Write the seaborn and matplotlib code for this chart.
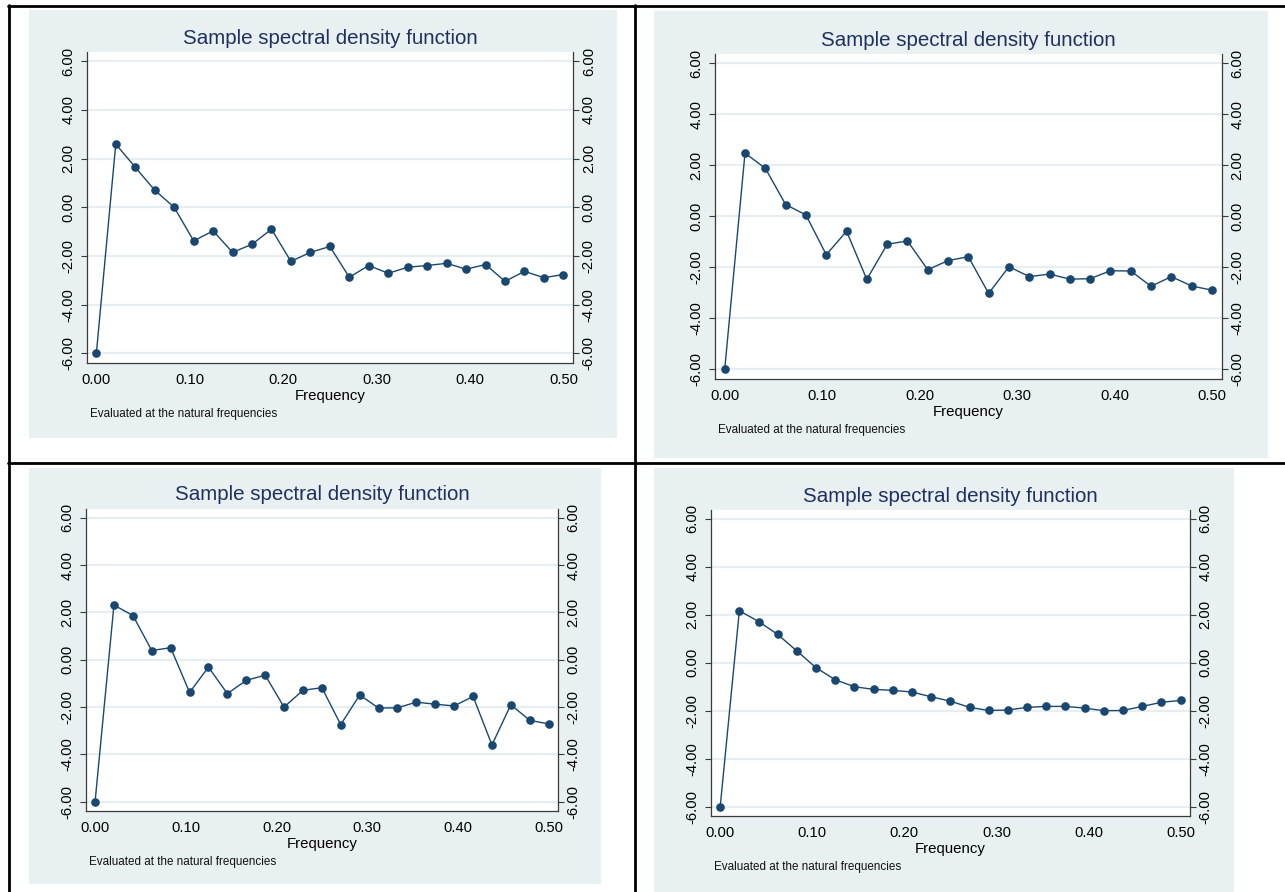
import matplotlib
matplotlib.use("Agg")
import matplotlib.pyplot as plt
import seaborn as sns
import pandas as pd
from matplotlib.patches import Rectangle
from matplotlib.lines import Line2D

# ---------------- data ----------------
freq = [0.0, 0.0208, 0.0417, 0.0625, 0.0833, 0.1042, 0.125, 0.1458, 0.1667,
        0.1875, 0.2083, 0.2292, 0.25, 0.2708, 0.2917, 0.3125, 0.3333, 0.3542,
        0.375, 0.3958, 0.4167, 0.4375, 0.4583, 0.4792, 0.5]

sdf1 = [-6.00, 2.59, 1.64, 0.70, 0.00, -1.38, -0.97, -1.85, -1.52, -0.90,
        -2.22, -1.85, -1.61, -2.87, -2.39, -2.71, -2.46, -2.39, -2.30, -2.54,
        -2.35, -3.04, -2.63, -2.89, -2.76]
sdf2 = [-6.00, 2.48, 1.88, 0.46, 0.05, -1.51, -0.59, -2.48, -1.10, -0.97,
        -2.10, -1.74, -1.59, -3.03, -1.98, -2.37, -2.27, -2.47, -2.45, -2.14,
        -2.15, -2.75, -2.37, -2.74, -2.90]
sdf3 = [-6.00, 2.31, 1.87, 0.39, 0.51, -1.38, -0.31, -1.43, -0.87, -0.65,
        -2.00, -1.29, -1.18, -2.74, -1.49, -2.04, -2.03, -1.79, -1.88, -1.95,
        -1.55, -3.60, -1.90, -2.56, -2.71]
sdf4 = [-6.00, 2.17, 1.72, 1.18, 0.49, -0.21, -0.71, -1.00, -1.11, -1.15,
        -1.22, -1.42, -1.60, -1.86, -1.99, -1.97, -1.86, -1.82, -1.82, -1.89,
        -2.00, -1.99, -1.82, -1.65, -1.57]

y_ticks = [-6, -4, -2, 0, 2, 4, 6]
y_labels = ["-6.00", "-4.00", "-2.00", "0.00", "2.00", "4.00", "6.00"]
x_ticks = [0.0, 0.1, 0.2, 0.3, 0.4, 0.5]
x_labels = ["0.00", "0.10", "0.20", "0.30", "0.40", "0.50"]

title_text = "Sample spectral density function"
xlabel_text = "Frequency"
note_text = "Evaluated at the natural frequencies"

df = pd.DataFrame({"freq": freq, "s1": sdf1, "s2": sdf2, "s3": sdf3, "s4": sdf4})

# ---------------- style ----------------
sns.set_style("white")
plt.rcParams["font.family"] = ["Liberation Sans", "DejaVu Sans"]

W, H = 1285, 892
BG = "#E8F0F2"
GRID = "#E6EEF1"
NAVY = "#1A476F"
TITLE_C = "#1F3060"
AX_C = "#3A3A3A"

fig = plt.figure(figsize=(W / 100, H / 100), dpi=100)
fig.patch.set_facecolor("white")


def fx(px):
    return px / W


def fy(py):
    return 1 - py / H


# panel layout in pixels: background box and plot box (left, top, right, bottom)
panels = [
    ("s1", (29, 10, 617, 438), (87, 52, 573, 363)),
    ("s2", (654, 11, 1268, 458), (715, 54, 1222, 379)),
    ("s3", (29, 468, 601, 884), (86, 509, 558, 811)),
    ("s4", (654, 468, 1234, 892), (711, 510, 1190, 816)),
]

for col, bg, pb in panels:
    l, t, r, b = bg
    fig.add_artist(Rectangle((fx(l), fy(b)), (r - l) / W, (b - t) / H,
                             transform=fig.transFigure, facecolor=BG,
                             edgecolor="none", zorder=-5))
    l, t, r, b = pb
    ax = fig.add_axes([fx(l), fy(b), (r - l) / W, (b - t) / H])
    ax.set_facecolor("white")
    sns.lineplot(data=df, x="freq", y=col, ax=ax, color=NAVY, linewidth=1.0,
                 marker="o", markersize=6.2, markeredgewidth=0, zorder=3)
    ax.set_xlim(-0.01, 0.5103)
    ax.set_ylim(-6.39, 6.37)
    ax.set_xlabel("")
    ax.set_ylabel("")
    ax.set_xticks(x_ticks)
    ax.set_xticklabels(x_labels)
    ax.set_yticks(y_ticks)
    ax.set_yticklabels(y_labels, rotation=90, va="center")
    ax.yaxis.grid(True, color=GRID, linewidth=1.6)
    ax.xaxis.grid(False)
    ax.set_axisbelow(True)
    for s in ["top", "right"]:
        ax.spines[s].set_visible(False)
    for s in ["left", "bottom"]:
        ax.spines[s].set_color(AX_C)
        ax.spines[s].set_linewidth(0.9)
    ax.tick_params(axis="x", direction="out", length=4.3, width=0.8,
                   color=AX_C, labelsize=10.6, pad=2.7, labelcolor="black")
    ax.tick_params(axis="y", direction="out", length=4.3, width=0.8,
                   color=AX_C, labelsize=10.6, pad=4.0, labelcolor="black")

    ax2 = ax.twinx()
    ax2.set_ylim(ax.get_ylim())
    ax2.set_yticks(y_ticks)
    ax2.set_yticklabels(y_labels, rotation=90, va="center")
    for s in ["top", "left", "bottom"]:
        ax2.spines[s].set_visible(False)
    ax2.spines["right"].set_color(AX_C)
    ax2.spines["right"].set_linewidth(0.9)
    ax2.tick_params(axis="y", direction="out", length=4.3, width=0.8,
                    color=AX_C, labelsize=10.6, pad=2.0, labelcolor="black")
    ax2.grid(False)

    cx = (l + r) / 2
    fig.text(fx(cx), fy(t - 14), title_text, ha="center", va="center",
             fontsize=14.8, color=TITLE_C)
    fig.text(fx(cx), fy(b + 33), xlabel_text, ha="center", va="center",
             fontsize=10.8, color="black")
    fig.text(fx(l + 3), fy(b + 51), note_text, ha="left", va="center",
             fontsize=8.4, color="#111111")

# table rules
lw = 2.0
fig.add_artist(Line2D([fx(8), 1], [fy(5.5), fy(5.5)], transform=fig.transFigure,
                      color="black", linewidth=lw))
fig.add_artist(Line2D([fx(8), 1], [fy(462.7), fy(462.7)], transform=fig.transFigure,
                      color="black", linewidth=lw))
fig.add_artist(Line2D([fx(9), fx(9)], [0, fy(4.5)], transform=fig.transFigure,
                      color="black", linewidth=lw))
fig.add_artist(Line2D([fx(635), fx(635)], [0, fy(4.5)], transform=fig.transFigure,
                      color="black", linewidth=lw))

fig.savefig("out.png", dpi=100, facecolor="white")
